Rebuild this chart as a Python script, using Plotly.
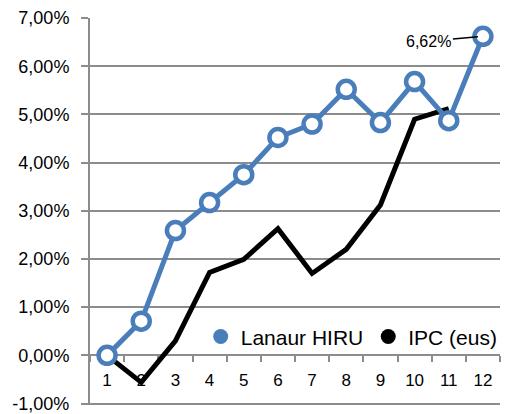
import plotly.graph_objects as go

months = ["1", "2", "3", "4", "5", "6", "7", "8", "9", "10", "11", "12"]
lanaur_hiru = [0.0, 0.71, 2.59, 3.17, 3.75, 4.52, 4.80, 5.52, 4.83, 5.68, 4.87, 6.62]
ipc_eus = [0.0, -0.56, 0.30, 1.72, 1.99, 2.63, 1.70, 2.20, 3.12, 4.90, 5.12, None]
y_ticks = [-1, 0, 1, 2, 3, 4, 5, 6, 7]


def pct(v):
    return f"{v:.2f}%".replace(".", ",")


y_tick_text = [pct(v) for v in y_ticks]
y_range = [-1.03, 7.0]

BLUE = "#4A7EBB"
GRID = "#8C8C8C"
FONT = "Liberation Sans"

fig = go.Figure()
fig.add_trace(go.Scatter(x=months, y=ipc_eus, mode="lines", name="IPC (eus)",
                         line=dict(color="black", width=5), showlegend=False))
fig.add_trace(go.Scatter(x=months, y=lanaur_hiru, mode="lines+markers", name="Lanaur HIRU",
                         line=dict(color=BLUE, width=5),
                         marker=dict(size=17, color="white", line=dict(color=BLUE, width=4.5)),
                         showlegend=False))
fig.add_trace(go.Scatter(x=[None], y=[None], mode="markers", name="Lanaur HIRU",
                         marker=dict(size=15, color=BLUE)))
fig.add_trace(go.Scatter(x=[None], y=[None], mode="markers", name="IPC (eus)",
                         marker=dict(size=15, color="black")))

fig.add_annotation(x=11, y=lanaur_hiru[-1], text=pct(lanaur_hiru[-1]),
                   showarrow=True, arrowhead=0, arrowwidth=1.5, arrowcolor="black",
                   ax=-54, ay=5, standoff=5,
                   font=dict(family=FONT, size=16, color="black"))

# page body has an 8px default margin: figure sized to fit the 518x414 window
fig.update_layout(
    width=510, height=406,
    margin=dict(l=82, r=18, t=10, b=8.5, autoexpand=False),
    paper_bgcolor="white", plot_bgcolor="white",
    font=dict(family=FONT, color="black"),
    legend=dict(orientation="h", x=0.27, xanchor="left", y=0.176, yanchor="middle",
                bgcolor="rgba(0,0,0,0)", font=dict(family=FONT, size=21, color="black")),
    xaxis=dict(type="category", range=[-0.5, 11.5], anchor="free",
               position=(0 - y_range[0]) / (y_range[1] - y_range[0]),
               showline=True, linecolor=GRID, linewidth=2, showgrid=False,
               ticks="outside", tickson="boundaries", ticklen=6, tickcolor=GRID, tickwidth=1.5,
               ticklabelstandoff=9,
               tickfont=dict(family=FONT, size=17, color="black"),
               layer="below traces", zeroline=False),
    yaxis=dict(range=y_range, tickvals=y_ticks, ticktext=y_tick_text,
               showline=True, linecolor=GRID, linewidth=2,
               showgrid=True, gridcolor=GRID, gridwidth=1.5,
               ticks="outside", ticklen=7, tickcolor=GRID, tickwidth=1.5,
               ticklabelstandoff=8,
               tickfont=dict(family=FONT, size=18, color="black"),
               zeroline=False),
)

fig.write_html("out.html")
